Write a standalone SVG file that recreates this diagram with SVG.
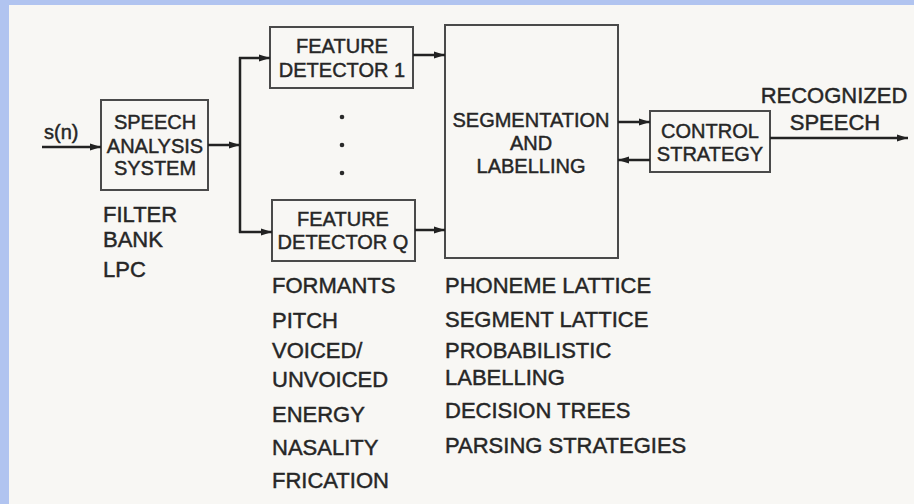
<svg xmlns="http://www.w3.org/2000/svg" width="914" height="504" viewBox="0 0 914 504">
<style>
.bg{fill:#f8f7f4}
.box{fill:none;stroke:#4a4a4a;stroke-width:2}
.t{font-family:"Liberation Sans",Arial,sans-serif;fill:#262626;stroke:#262626;stroke-width:0.45;font-size:20px}
.c{text-anchor:middle}
.l{font-size:22px}
.conn line{stroke:#222;stroke-width:2.5;fill:none}
</style>
<defs>
<marker id="ah" markerUnits="userSpaceOnUse" markerWidth="12" markerHeight="8" refX="11" refY="4" orient="auto">
<path d="M0,0.5 L11,4 L0,7.5 Z" fill="#222"/>
</marker>
</defs>
<rect class="bg" x="0" y="0" width="914" height="504"/>
<rect x="0" y="0" width="914" height="5" fill="#b1c4f0"/>
<rect x="0" y="0" width="9" height="504" fill="#b1c4f0"/>

<g id="input">
<text class="t" x="44" y="139" style="font-size:20px">s(n)</text>
</g>

<g id="speech-analysis">
<rect class="box" x="101" y="100" width="107" height="90"/>
<text class="t c" x="155" y="129">SPEECH</text>
<text class="t c" x="155" y="153">ANALYSIS</text>
<text class="t c" x="155" y="175">SYSTEM</text>
</g>

<g id="speech-notes">
<text class="t l" x="103" y="222">FILTER</text>
<text class="t l" x="103" y="247">BANK</text>
<text class="t l" x="103" y="277">LPC</text>
</g>

<g id="feature-detector-1">
<rect class="box" x="270" y="27" width="143" height="61"/>
<text class="t c" x="342" y="53">FEATURE</text>
<text class="t c" x="342" y="77">DETECTOR 1</text>
</g>

<g id="dots">
<circle cx="342" cy="117" r="2.3" fill="#2a2a2a"/>
<circle cx="342" cy="145" r="2.3" fill="#2a2a2a"/>
<circle cx="342" cy="173" r="2.3" fill="#2a2a2a"/>
</g>

<g id="feature-detector-q">
<rect class="box" x="272" y="200" width="143" height="61"/>
<text class="t c" x="343" y="226">FEATURE</text>
<text class="t c" x="343" y="249">DETECTOR Q</text>
</g>

<g id="feature-notes">
<text class="t l" x="272" y="293">FORMANTS</text>
<text class="t l" x="272" y="328">PITCH</text>
<text class="t l" x="272" y="358">VOICED/</text>
<text class="t l" x="272" y="387">UNVOICED</text>
<text class="t l" x="272" y="422">ENERGY</text>
<text class="t l" x="272" y="455">NASALITY</text>
<text class="t l" x="272" y="488">FRICATION</text>
</g>

<g id="segmentation">
<rect class="box" x="445" y="25" width="173" height="233"/>
<text class="t c" x="531" y="127">SEGMENTATION</text>
<text class="t c" x="531" y="150">AND</text>
<text class="t c" x="531" y="173">LABELLING</text>
</g>

<g id="segmentation-notes">
<text class="t l" x="445" y="293">PHONEME LATTICE</text>
<text class="t l" x="445" y="327">SEGMENT LATTICE</text>
<text class="t l" x="445" y="358">PROBABILISTIC</text>
<text class="t l" x="445" y="385">LABELLING</text>
<text class="t l" x="445" y="418">DECISION TREES</text>
<text class="t l" x="445" y="453">PARSING STRATEGIES</text>
</g>

<g id="control-strategy">
<rect class="box" x="650" y="111" width="120" height="61"/>
<text class="t c" x="710" y="138">CONTROL</text>
<text class="t c" x="710" y="161">STRATEGY</text>
</g>

<g id="output">
<text class="t l c" x="834" y="103">RECOGNIZED</text>
<text class="t l c" x="835" y="130">SPEECH</text>
</g>

<g id="connectors" class="conn">
<line x1="42" y1="147" x2="101" y2="147" marker-end="url(#ah)"/>
<line x1="208" y1="145" x2="240" y2="145" marker-end="url(#ah)"/>
<line x1="240" y1="57" x2="240" y2="233"/>
<line x1="239" y1="58" x2="270" y2="58" marker-end="url(#ah)"/>
<line x1="239" y1="232" x2="272" y2="232" marker-end="url(#ah)"/>
<line x1="413" y1="55" x2="445" y2="55" marker-end="url(#ah)"/>
<line x1="415" y1="230" x2="445" y2="230" marker-end="url(#ah)"/>
<line x1="618" y1="122" x2="650" y2="122" marker-end="url(#ah)"/>
<line x1="650" y1="160" x2="618" y2="160" marker-end="url(#ah)"/>
<line x1="770" y1="138" x2="908" y2="138" marker-end="url(#ah)"/>
</g>
</svg>
